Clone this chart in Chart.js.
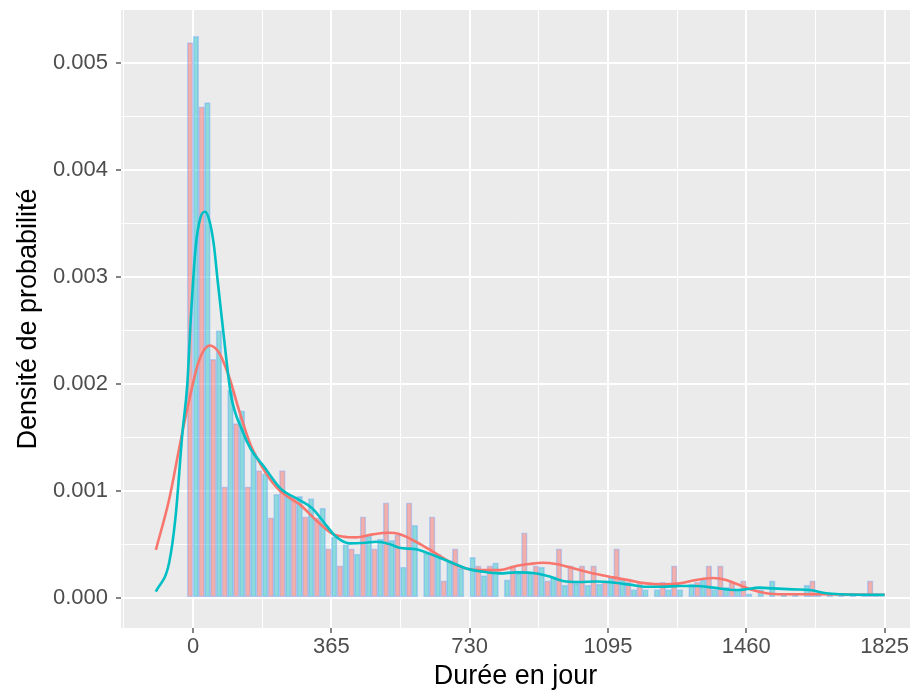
<!DOCTYPE html>
<html>
<head>
<meta charset="utf-8">
<script src="https://cdn.jsdelivr.net/npm/chart.js@4.4.1/dist/chart.umd.min.js"></script>
<style>
  html, body { margin: 0; padding: 0; background: #fff; }
</style>
</head>
<body>
<canvas id="densite" width="913" height="693"></canvas>
<script>
// histogram: one bin per month
const binWidth = 365 / 12;
const binStart = 0;

const redHist = [
  0.00519, 0.00459, 0.00223, 0.00104, 0.00163, 0.00104, 0.00119, 0.00075, 0.00119, 0.00094,
  0.00076, 0.00075, 0.00046, 0.00030, 0.00046, 0.00076, 0.00046, 0.00089, 0.00059, 0.00089,
  0.00000, 0.00076, 0.00016, 0.00046, 0.00000, 0.00030, 0.00030, 0.00000, 0.00030, 0.00061,
  0.00030, 0.00016, 0.00046, 0.00030, 0.00030, 0.00030, 0.00015, 0.00046, 0.00015, 0.00015,
  0.00000, 0.00015, 0.00030, 0.00000, 0.00015, 0.00030, 0.00030, 0.00015, 0.00016, 0.00000,
  0.00000, 0.00000, 0.00000, 0.00000, 0.00016, 0.00000, 0.00000, 0.00000, 0.00000, 0.00016
];

const cyanHist = [
  0.00525, 0.00463, 0.00250, 0.00194, 0.00175, 0.00136, 0.00116, 0.00097, 0.00097, 0.00095,
  0.00093, 0.00084, 0.00057, 0.00050, 0.00041, 0.00058, 0.00055, 0.00054, 0.00029, 0.00068,
  0.00042, 0.00041, 0.00035, 0.00028, 0.00038, 0.00021, 0.00033, 0.00017, 0.00023, 0.00023,
  0.00029, 0.00020, 0.00012, 0.00014, 0.00012, 0.00013, 0.00019, 0.00017, 0.00008, 0.00008,
  0.00008, 0.00008, 0.00008, 0.00013, 0.00017, 0.00008, 0.00010, 0.00008, 0.00004, 0.00008,
  0.00016, 0.00004, 0.00004, 0.00012, 0.00004, 0.00004, 0.00004, 0.00004, 0.00004, 0.00004
];

// density curves
const redCurveDays = [-98, -63, -32, -10, 16, 44, 69, 95, 121, 152, 192, 227, 262, 280, 324, 368,
  394, 430, 474, 518, 544, 588, 633, 677, 721, 765, 809, 853, 888, 923, 958, 994, 1028, 1064,
  1108, 1152, 1196, 1240, 1284, 1328, 1372, 1407, 1442, 1477, 1513, 1557, 1645, 1733, 1825];
const redCurveDensity = [0.00045, 0.00092, 0.00148, 0.00185, 0.00222, 0.00236, 0.00229, 0.00207,
  0.00176, 0.00143, 0.00117, 0.00101, 0.00092, 0.00088, 0.00073, 0.00060, 0.000575, 0.000567,
  0.000595, 0.00061, 0.000598, 0.000526, 0.000433, 0.000339, 0.000277, 0.000261, 0.000261,
  0.00030, 0.000318, 0.00033, 0.000318, 0.000287, 0.000256, 0.000224, 0.000193, 0.000165,
  0.000137, 0.000128, 0.000137, 0.000168, 0.000187, 0.000168, 0.000121, 0.000075, 0.000044,
  0.000035, 0.000035, 0.000033, 0.00003];

const cyanCurveDays = [-98, -63, -46, -28, -15, -6, 7, 20, 32, 43, 55, 64, 78, 100, 130, 152, 188,
  232, 280, 315, 351, 377, 412, 456, 483, 518, 544, 588, 633, 677, 721, 765, 809, 853, 892, 936,
  976, 1020, 1064, 1108, 1152, 1196, 1240, 1284, 1328, 1372, 1416, 1442, 1495, 1530, 1583, 1627,
  1671, 1707, 1825];
const cyanCurveDensity = [0.00006, 0.00033, 0.00076, 0.00154, 0.0020, 0.0026, 0.00328, 0.00356,
  0.00361, 0.00353, 0.0033, 0.0030, 0.00255, 0.0019, 0.001565, 0.001395, 0.001224, 0.00102,
  0.000918, 0.000838, 0.000682, 0.000574, 0.000511, 0.000517, 0.000526, 0.000505, 0.00047,
  0.000455, 0.000402, 0.000339, 0.000277, 0.000246, 0.00023, 0.00024, 0.000236, 0.000205,
  0.00016, 0.00015, 0.000155, 0.000145, 0.000125, 0.000106, 0.000106, 0.000112, 0.000112,
  0.000097, 0.000077, 0.000075, 0.000097, 0.00009, 0.000081, 0.000075, 0.000044, 0.000035, 0.00003];

const xTickLabels = [0, 365, 730, 1095, 1460, 1825];
const yTickLabels = [0, 0.001, 0.002, 0.003, 0.004, 0.005];

const binCenters = redHist.map((_, i) => binStart + i * binWidth);
const toPoints = (xs, ys) => xs.map((x, i) => ({x: x, y: ys[i]}));

const panelBg = {
  id: 'panelBg',
  beforeDraw(chart) {
    const {ctx, chartArea: a} = chart;
    ctx.save();
    ctx.fillStyle = '#EBEBEB';
    ctx.fillRect(a.left, a.top, a.right - a.left, a.bottom - a.top);
    ctx.restore();
  }
};

const isMajorX = v => xTickLabels.some(t => Math.abs(t - v) < 1e-6);
const isMajorY = v => yTickLabels.some(t => Math.abs(t - v) < 1e-9);
const tickOf = c => (c && c.tick) ? c.tick.value : null;

const tickFont = {family: 'Liberation Sans', size: 22};
const titleFont = {family: 'Liberation Sans', size: 27};

const ctx = document.getElementById('densite');
new Chart(ctx, {
  type: 'bar',
  data: {
    datasets: [{
      type: 'line',
      label: 'cyan density',
      data: toPoints(cyanCurveDays, cyanCurveDensity),
      borderColor: '#00BFC4',
      borderWidth: 2.6,
      pointRadius: 0,
      cubicInterpolationMode: 'monotone',
      fill: false,
      order: 0
    }, {
      type: 'line',
      label: 'red density',
      data: toPoints(redCurveDays, redCurveDensity),
      borderColor: '#F8766D',
      borderWidth: 2.6,
      pointRadius: 0,
      cubicInterpolationMode: 'monotone',
      fill: false,
      order: 1
    }, {
      label: 'red',
      data: toPoints(binCenters, redHist),
      backgroundColor: 'rgba(248,118,109,0.5)',
      borderColor: 'rgba(97,156,255,0.4)',
      borderWidth: 1,
      borderSkipped: false,
      order: 2
    }, {
      label: 'cyan',
      data: toPoints(binCenters, cyanHist),
      backgroundColor: 'rgba(0,191,196,0.4)',
      borderColor: 'rgba(97,156,255,0.4)',
      borderWidth: 1,
      borderSkipped: false,
      order: 2
    }]
  },
  options: {
    responsive: false,
    animation: false,
    devicePixelRatio: 1,
    layout: { padding: { top: 10, right: 3, left: 0, bottom: 0 } },
    plugins: { legend: { display: false }, tooltip: { enabled: false } },
    datasets: { bar: { barPercentage: 1, categoryPercentage: 1, grouped: true } },
    scales: {
      x: {
        type: 'linear',
        offset: false,
        min: -190,
        max: 1892,
        afterBuildTicks(scale) {
          const t = [];
          for (let k = -1; k <= 10; k++) t.push({value: k * 182.5});
          scale.ticks = t;
        },
        afterFit(scale) {
          scale.height = 65;
          scale.paddingLeft = 0;
          scale.paddingRight = 0;
        },
        border: { display: false },
        grid: {
          offset: false,
          color: '#FFFFFF',
          lineWidth: c => isMajorX(tickOf(c)) ? 2 : 1,
          tickColor: c => isMajorX(tickOf(c)) ? '#333333' : 'rgba(0,0,0,0)',
          tickWidth: 1.2,
          tickLength: 5
        },
        ticks: {
          autoSkip: false,
          maxRotation: 0,
          padding: 1,
          color: '#4D4D4D',
          font: tickFont,
          callback: v => isMajorX(v) ? String(Math.round(v)) : ''
        },
        title: {
          display: true,
          text: 'Durée en jour',
          color: '#000000',
          font: titleFont,
          padding: { top: 0, bottom: 0 }
        }
      },
      y: {
        type: 'linear',
        min: -0.00028,
        max: 0.005495,
        afterBuildTicks(scale) {
          const t = [];
          for (let k = 0; k <= 10; k++) t.push({value: k * 0.0005});
          scale.ticks = t;
        },
        afterFit(scale) {
          scale.width = 121;
          scale.paddingTop = 0;
          scale.paddingBottom = 0;
        },
        border: { display: false },
        grid: {
          offset: false,
          color: '#FFFFFF',
          lineWidth: c => isMajorY(tickOf(c)) ? 2 : 1,
          tickColor: c => isMajorY(tickOf(c)) ? '#333333' : 'rgba(0,0,0,0)',
          tickWidth: 1.2,
          tickLength: 5
        },
        ticks: {
          autoSkip: false,
          padding: 8,
          color: '#4D4D4D',
          font: tickFont,
          callback: v => isMajorY(v) ? v.toFixed(3) : ''
        },
        title: {
          display: true,
          text: 'Densité de probabilité',
          color: '#000000',
          font: titleFont,
          padding: { top: 12, bottom: 0 }
        }
      }
    }
  },
  plugins: [panelBg]
});
</script>
</body>
</html>
